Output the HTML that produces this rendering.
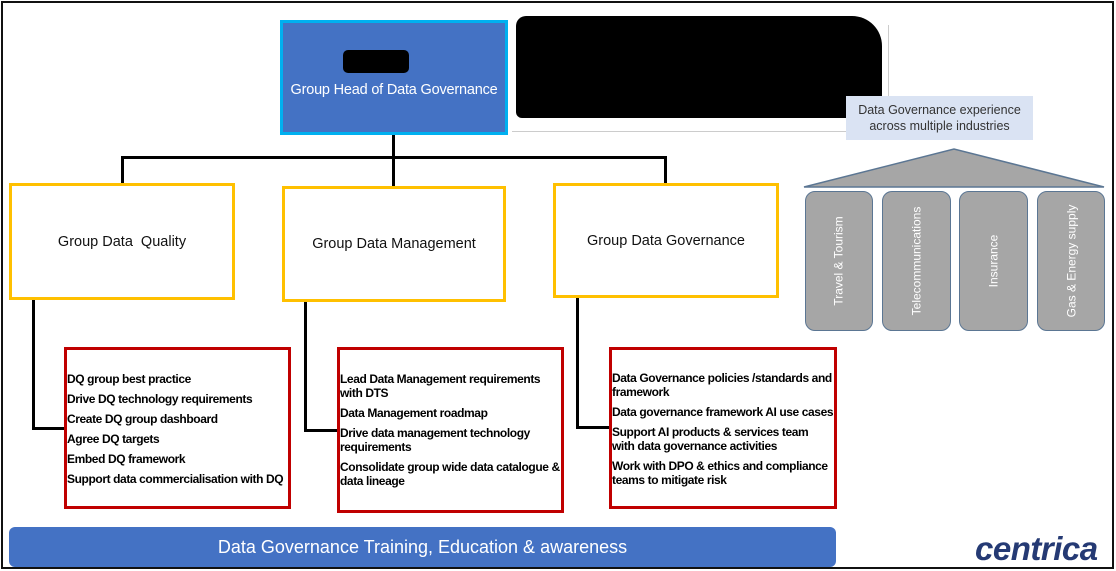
<!DOCTYPE html>
<html><head><meta charset="utf-8"><style>
*{margin:0;padding:0;box-sizing:border-box}
body{width:1116px;height:571px;background:#fff;position:relative;overflow:hidden;font-family:"Liberation Sans",sans-serif}
.a{position:absolute}
.frame{left:1px;top:1px;width:1113px;height:568px;border:2px solid #111}
.y{border:3px solid #ffc000;display:flex;align-items:center;justify-content:center;font-size:14.5px;color:#111}
.r{border:3px solid #c00000;font-size:12px;font-weight:bold;color:#000}
.r div{line-height:14px;margin-bottom:6px;letter-spacing:-0.4px;white-space:nowrap}
.ln{background:#000}
.p{background:#a6a6a6;border:1.5px solid #5b7693;border-radius:10px;color:#fff;font-size:12px;display:flex;align-items:center;justify-content:center}
.p span{transform:rotate(-90deg);white-space:nowrap;display:block}
</style></head><body>
<div class="a frame"></div>
<div class="a" style="left:280px;top:20px;width:228px;height:115px;background:#4472c4;border:3px solid #00b0f0"></div>
<div class="a" style="left:343px;top:50px;width:66px;height:23px;background:#000;border-radius:5px"></div>
<div class="a" style="left:280px;top:82px;width:228px;text-align:center;color:#fff;font-size:14.5px;letter-spacing:-0.2px">Group Head of Data Governance</div>
<div class="a" style="left:512px;top:25px;width:377px;height:107px;border:1px solid #ccc;border-top:none;border-left:none"></div>
<div class="a" style="left:516px;top:16px;width:366px;height:102px;background:#000;border-radius:10px 30px 6px 6px"></div>
<div class="a ln" style="left:392px;top:135px;width:3px;height:51px"></div>
<div class="a ln" style="left:121px;top:156px;width:546px;height:3px"></div>
<div class="a ln" style="left:121px;top:156px;width:3px;height:28px"></div>
<div class="a ln" style="left:664px;top:156px;width:3px;height:28px"></div>
<div class="a y" style="left:9px;top:183px;width:226px;height:117px">Group Data&nbsp; Quality</div>
<div class="a y" style="left:282px;top:186px;width:224px;height:116px">Group Data Management</div>
<div class="a y" style="left:553px;top:183px;width:226px;height:115px">Group Data Governance</div>
<div class="a ln" style="left:32px;top:300px;width:3px;height:130px"></div>
<div class="a ln" style="left:32px;top:427px;width:34px;height:3px"></div>
<div class="a ln" style="left:304px;top:302px;width:3px;height:130px"></div>
<div class="a ln" style="left:304px;top:429px;width:35px;height:3px"></div>
<div class="a ln" style="left:576px;top:298px;width:3px;height:130px"></div>
<div class="a ln" style="left:576px;top:426px;width:35px;height:3px"></div>
<div class="a r" style="left:64px;top:347px;width:227px;height:162px;padding-top:22px">
<div>DQ group best practice</div><div>Drive DQ technology requirements</div><div>Create DQ group dashboard</div><div>Agree DQ targets</div><div>Embed DQ framework</div><div>Support data commercialisation with DQ</div></div>
<div class="a r" style="left:337px;top:347px;width:227px;height:166px;padding-top:22px">
<div>Lead Data Management requirements<br>with DTS</div><div>Data Management roadmap</div><div>Drive data management technology<br>requirements</div><div>Consolidate group wide data catalogue &amp;<br>data lineage</div></div>
<div class="a r" style="left:609px;top:347px;width:228px;height:162px;padding-top:21px">
<div>Data Governance policies /standards and<br>framework</div><div>Data governance framework AI use cases</div><div>Support AI products &amp; services team<br>with data governance activities</div><div>Work with DPO &amp; ethics and compliance<br>teams to mitigate risk</div></div>
<div class="a" style="left:9px;top:527px;width:827px;height:40px;background:#4472c4;border-radius:6px;color:#fff;font-size:18px;text-align:center;line-height:40px">Data Governance Training, Education &amp; awareness</div>
<div class="a" style="left:975px;top:530px;font-size:33px;font-weight:bold;font-style:italic;color:#253a74;letter-spacing:-0.5px">centrica</div>
<div class="a" style="left:846px;top:96px;width:187px;height:44px;background:#dae3f3;color:#333;font-size:12.5px;text-align:center;line-height:16px;padding-top:6px">Data Governance experience<br>across multiple industries</div>
<svg class="a" style="left:0;top:0" width="1116" height="571"><polygon points="804,187 954,149 1104,187" fill="#a6a6a6" stroke="#5b7693" stroke-width="1.5"/></svg>
<div class="a p" style="left:805px;top:191px;width:68px;height:140px"><span>Travel &amp; Tourism</span></div>
<div class="a p" style="left:882px;top:191px;width:69px;height:140px"><span>Telecommunications</span></div>
<div class="a p" style="left:959px;top:191px;width:69px;height:140px"><span>Insurance</span></div>
<div class="a p" style="left:1037px;top:191px;width:68px;height:140px"><span>Gas &amp; Energy supply</span></div>
</body></html>
